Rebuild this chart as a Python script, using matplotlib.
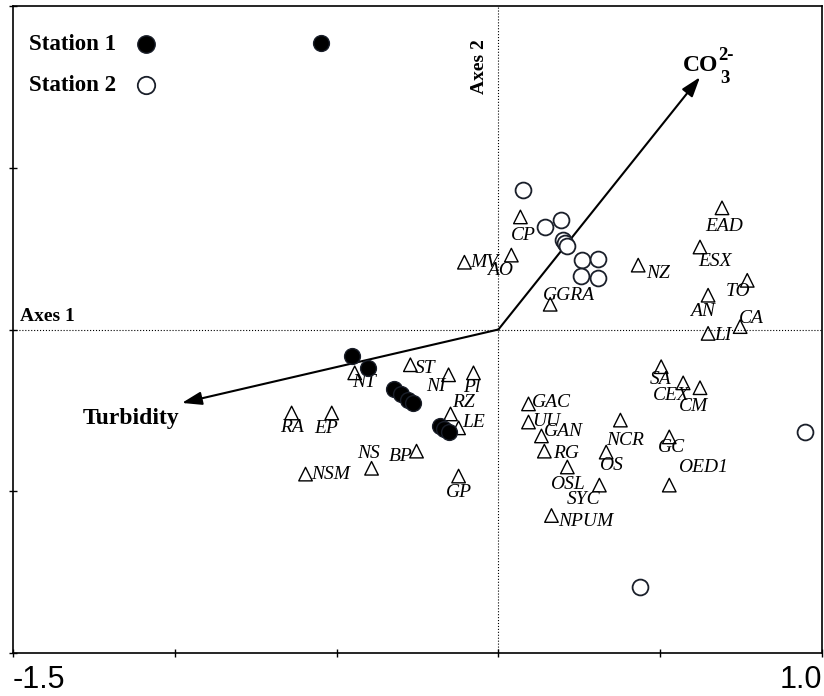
import matplotlib.pyplot as plt
import numpy as np

plt.rcParams['font.family'] = ['Liberation Serif', 'DejaVu Serif']

# station scores
station1_x = [-0.549, -0.451, -0.404, -0.324, -0.302, -0.278, -0.265, -0.182, -0.167, -0.154]
station1_y = [0.885, -0.081, -0.118, -0.183, -0.199, -0.217, -0.227, -0.298, -0.307, -0.317]
station2_x = [0.077, 0.145, 0.194, 0.201, 0.207, 0.213, 0.259, 0.309, 0.256, 0.309, 0.948, 0.438]
station2_y = [0.432, 0.317, 0.339, 0.276, 0.267, 0.258, 0.214, 0.217, 0.165, 0.158, -0.317, -0.795]

# species scores
species = ['NT', 'ST', 'NI', 'Pl', 'RZ', 'LE', 'RA', 'EP', 'NS', 'BP', 'NSM', 'GP',
           'CP', 'AO', 'MV', 'GGRA', 'NZ', 'EAD', 'ESX', 'TO', 'AN', 'CA', 'LI',
           'SA', 'CEX', 'CM', 'GAC', 'UU', 'GAN', 'RG', 'NCR', 'OS', 'GC', 'OED1',
           'OSL', 'SYC', 'NPUM']
species_x = [-0.444, -0.272, -0.154, -0.077, -0.148, -0.123, -0.639, -0.515, -0.392, -0.253, -0.596, -0.123,
             0.068, 0.040, -0.105, 0.160, 0.432, 0.691, 0.623, 0.769, 0.648, 0.747, 0.648,
             0.503, 0.571, 0.623, 0.093, 0.093, 0.133, 0.142, 0.377, 0.333, 0.528, 0.528,
             0.213, 0.312, 0.164]
species_y = [-0.134, -0.109, -0.140, -0.134, -0.261, -0.304, -0.258, -0.258, -0.429, -0.376, -0.447, -0.453,
             0.348, 0.230, 0.208, 0.078, 0.199, 0.376, 0.255, 0.152, 0.106, 0.009, -0.012,
             -0.115, -0.165, -0.180, -0.230, -0.286, -0.329, -0.376, -0.280, -0.379, -0.332, -0.481,
             -0.425, -0.481, -0.575]

# environmental vectors
env_x = [-0.978, 0.623]
env_y = [-0.227, 0.780]

# label offsets in pixels (dx right, dy down)
label_off = [(9, 10), (15, 4), (-13, 12), (-2, 15), (13, -11), (15, -5), (0, 15), (-6, 16),
             (-3, -15), (-16, 5), (25, 0), (0, 16),
             (3, 19), (-11, 15), (20, 0), (19, -9), (20, 8), (2, 19), (15, 14), (-9, 11),
             (-6, 16), (11, -8), (15, 2),
             (-1, 13), (-12, 13), (-6, 19), (23, -1), (18, -1), (22, -4), (22, 2), (5, 20),
             (5, 13), (2, 11), (34, -18), (0, 18), (-16, 14), (34, 6)]

fig = plt.figure(figsize=(8.24, 6.96), dpi=100)
ax = fig.add_axes([13/824, 43/696, 809/824, 647/696])
ax.set_xlim(-1.5, 1.0)
ax.set_ylim(-1.0, 1.0)

ax.axhline(0, color='k', ls=':', lw=0.8)
ax.axvline(0, color='k', ls=':', lw=0.8)

# arrows
for x, y in zip(env_x, env_y):
    ax.annotate('', xy=(x, y), xytext=(0, 0),
                arrowprops=dict(arrowstyle='-|>,head_length=0.6,head_width=0.2',
                                color='k', lw=1.5, mutation_scale=20, shrinkA=0, shrinkB=0))

ax.scatter(species_x, species_y, marker='^', s=95, facecolors='none', edgecolors='k', linewidths=1.0, zorder=3)
for name, x, y, (dx, dy) in zip(species, species_x, species_y, label_off):
    ax.annotate(name, (x, y), xytext=(dx*0.72, -dy*0.72), textcoords='offset points',
                ha='center', va='center', fontsize=14, style='italic')

s1 = ax.scatter(station1_x, station1_y, s=130, c='k', edgecolors='#1a1f2a', linewidths=1.0,
                zorder=4, label='Station 1')
s2 = ax.scatter(station2_x, station2_y, s=130, facecolors='white', edgecolors='#1a1f2a',
                linewidths=1.3, zorder=4, label='Station 2')

ax.legend(handles=[s1, s2], loc='upper left', bbox_to_anchor=(0.0, 1 - 12/647),
          markerfirst=False, frameon=False, markerscale=1.1,
          prop={'weight': 'bold', 'size': 16.5}, handletextpad=0.9, labelspacing=0.85,
          borderaxespad=0.3, handlelength=0.8)

ax.text(-1.136, -0.276, 'Turbidity', fontsize=17, fontweight='bold', ha='center', va='center')
# CO3 2- label
ax.text(0.571, 0.798, 'CO', fontsize=17, fontweight='bold', ha='left', va='baseline')
ax.annotate('2-', (0.571, 0.798), xytext=(25, 11.5), textcoords='offset points',
            fontsize=13.5, fontweight='bold', ha='left', va='center')
ax.annotate('3', (0.571, 0.798), xytext=(26.5, -5.3), textcoords='offset points',
            fontsize=13.5, fontweight='bold', ha='left', va='center')
ax.text(-1.478, 0.025, 'Axes 1', fontsize=14, fontweight='bold', ha='left', va='baseline')
ax.text(-0.031, 0.898, 'Axes 2', fontsize=14, fontweight='bold', ha='right', va='top', rotation=90)

ax.set_xticks([-1.5, -1.0, -0.5, 0, 0.5, 1.0])
ax.set_xticklabels(['-1.5', '', '', '', '', '1.0'], fontfamily='Liberation Sans', fontsize=22)
ax.set_yticks([-1.0, -0.5, 0, 0.5, 1.0])
ax.set_yticklabels([])
ax.tick_params(direction='inout', length=6, width=1.0, pad=6)
labels = ax.get_xticklabels()
labels[0].set_ha('left')
labels[-1].set_ha('right')
for sp in ax.spines.values():
    sp.set_linewidth(1.2)

fig.savefig('out.png', dpi=100)
